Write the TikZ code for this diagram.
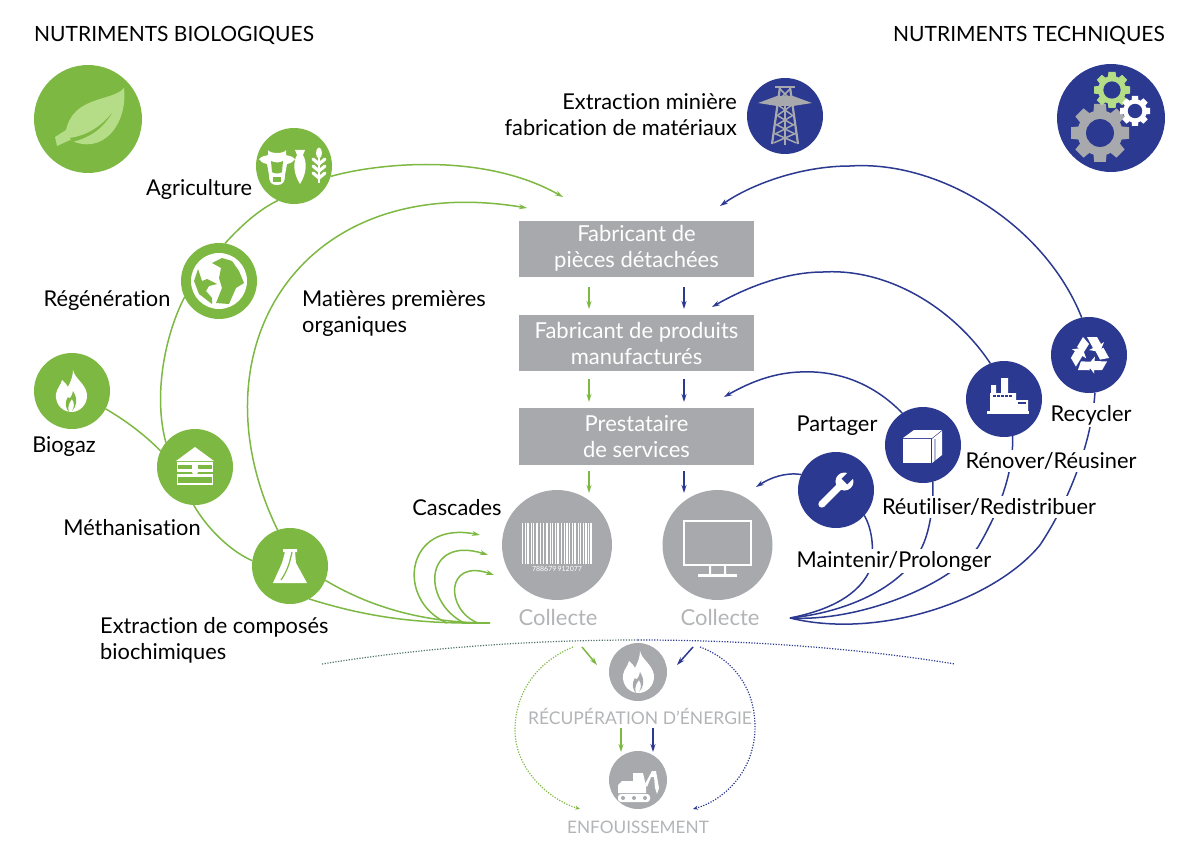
\documentclass[tikz,border=0pt]{standalone}
\usepackage{fontspec}
\setmainfont{Lato}[Ligatures=NoCommon]
\usepackage{color}
\usetikzlibrary{arrows.meta}
\definecolor{biogreen}{RGB}{125, 184, 66}
\definecolor{leafgreen}{RGB}{181, 220, 135}
\definecolor{technavy}{RGB}{43, 57, 144}
\definecolor{stepgrey}{RGB}{167, 169, 172}
\definecolor{endgrey}{RGB}{178, 180, 182}

\tikzset{
  biocircle/.style={circle,fill=biogreen,minimum size=76pt,inner sep=0pt,outer sep=0pt},
  techcircle/.style={circle,fill=technavy,minimum size=76pt,inner sep=0pt,outer sep=0pt},
  greycircle/.style={circle,fill=stepgrey,minimum size=110pt,inner sep=0pt,outer sep=0pt},
  endcircle/.style={circle,fill=stepgrey,minimum size=58pt,inner sep=0pt,outer sep=0pt},
  stepbox/.style={fill=stepgrey,text=white,minimum width=235pt,inner sep=0pt,outer sep=0pt,align=center,font=\fontsize{22}{26}\selectfont},
  lbl/.style={inner sep=0pt,yshift=-2pt,font=\fontsize{21.8}{26}\selectfont},
  gaplbl/.style={fill=white,inner xsep=0pt,inner ysep=2pt,yshift=-2pt,font=\fontsize{21.8}{26}\selectfont},
  greylbl/.style={inner sep=0pt,text=endgrey,font=\fontsize{22}{26}\selectfont},
  greenline/.style={biogreen,line width=1.5pt},
  navyline/.style={technavy,line width=1.5pt},
  dotline/.style={line width=1.2pt,dash pattern=on 1.2pt off 1.5pt}
}

\newcommand{\flameicon}[3]{% x, y, inner colour
  \begin{scope}[shift={(#1,#2)}]
    \fill[white] (2,-21) .. controls (4,-12) and (14,-8) .. (16,3) .. controls (17,14) and (8,21) .. (1,21)
      .. controls (-9,21) and (-16,13) .. (-15,3) .. controls (-14,-3) and (-10,-6) .. (-9,-11)
      .. controls (-6,-8) and (-4,-7) .. (-3,-4) .. controls (0,-10) and (2,-15) .. (2,-21);
    \fill[#3] (1,20) .. controls (6,15) and (7,8) .. (2,0) .. controls (1,6) and (-2,9) .. (-3,6)
      .. controls (-7,12) and (-5,18) .. (-2,21) .. controls (-4,14) and (-1,11) .. (1,8) .. controls (4,12) and (3,17) .. (1,20);
  \end{scope}}
\newcommand{\gearicon}[5]{% x, y, radius, colour, hole
  \begin{scope}[shift={(#1,#2)}]
    \foreach \a in {0,45,...,315}
      \fill[#4,rotate=\a] (-#3*0.3,0) -- (-#3*0.2,-#3) -- (#3*0.2,-#3) -- (#3*0.3,0) -- cycle;
    \fill[#4] (0,0) circle ({#3*0.78});
    \fill[#5] (0,0) circle ({#3*0.48});
  \end{scope}}

\begin{document}
\begin{tikzpicture}[>={Stealth[length=8pt,width=5pt]},x=1pt,y=-1pt]
  \useasboundingbox (0,0) rectangle (1200,848);

  % free ends
  \coordinate (tipagri) at (563,197);
  \coordinate (tiporg) at (527,208);
  \coordinate (tiprecycle) at (720,206);
  \coordinate (tipfactory) at (712,307);
  \coordinate (tipbox) at (724,397);
  \coordinate (tipwrench) at (756,487);
  \coordinate (biosink) at (490,623);
  \coordinate (techsink) at (790,618);
  \coordinate (tipcasa) at (480,535);
  \coordinate (tipcasb) at (488,555);
  \coordinate (tipcasc) at (494,575);
  \coordinate (casa) at (447,623);
  \coordinate (casb) at (464,623);
  \coordinate (casc) at (478,623);
  \coordinate (domel) at (322,664);
  \coordinate (domec) at (638,640);
  \coordinate (domer) at (955,664);

  % stages
  \node[stepbox,minimum height=56pt] (parts) at (636.5,248.5) {Fabricant de\\pièces détachées};
  \node[stepbox,minimum height=56pt] (maker) at (636.5,343) {Fabricant de produits\\manufacturés};
  \node[stepbox,minimum height=57pt] (service) at (636.5,436.5) {Prestataire\\de services};
  \node[greycircle] (collbio) at (557,545) {};
  \node[greycircle] (colltech) at (717.5,545) {};
  \node[endcircle] (energy) at (638,672) {};
  \node[endcircle] (landfill) at (638,780) {};

  % green side
  \node[biocircle,minimum size=108pt] (leaf) at (88,119) {};
  \node[biocircle] (agri) at (294,166) {};
  \node[biocircle] (regen) at (219,281) {};
  \node[biocircle] (biogas) at (72,391) {};
  \node[biocircle] (metha) at (195,467) {};
  \node[biocircle] (extract) at (290,566) {};
  \draw[greenline,->] (agri.-16) .. controls (370,165) and (480,150) .. (tipagri);
  \draw[greenline] (agri.245) .. controls (258,210) and (240,227) .. (regen.81);
  \draw[greenline] (regen.205) .. controls (165,335) and (153,395) .. (metha.140);
  \draw[greenline] (biogas.-28) .. controls (125,420) and (145,435) .. (metha.155);
  \draw[greenline] (metha.-92) .. controls (208,530) and (232,552) .. (extract.172);
  \draw[greenline,->] (extract.109) .. controls (190,350) and (300,170) .. (tiporg);
  \draw[greenline] (extract.-22) .. controls (375,610) and (430,623) .. (biosink);
  \draw[greenline] (extract.-60) .. controls (370,618) and (420,624) .. (biosink);
  \draw[greenline,->] (casa) .. controls (395,600) and (405,520) .. (tipcasa);
  \draw[greenline,->] (casb) .. controls (420,600) and (425,535) .. (tipcasb);
  \draw[greenline,->] (casc) .. controls (445,610) and (445,558) .. (tipcasc);

  % navy side
  \node[techcircle,minimum size=108pt] (gears) at (1111,118) {};
  \node[techcircle] (tower) at (785,116) {};
  \node[techcircle] (recycle) at (1089,355) {};
  \node[techcircle] (factory) at (1004,399) {};
  \node[techcircle] (crate) at (923,445) {};
  \node[techcircle] (wrench) at (836,490) {};
  \draw[navyline,->] (recycle.101) .. controls (1045,225) and (940,160) .. (850,166) .. controls (800,166) and (750,185) .. (tiprecycle);
  \draw[navyline,->] (factory.111) .. controls (955,310) and (890,268) .. (823,272) .. controls (785,272) and (745,288) .. (tipfactory);
  \draw[navyline,->] (crate.123) .. controls (875,385) and (840,370) .. (800,372) .. controls (770,373) and (745,385) .. (tipbox);
  \draw[navyline,->] (wrench.156) .. controls (785,472) and (770,478) .. (tipwrench);
  \draw[navyline] (wrench.-42) .. controls (873,530) and (875,555) .. (869,572) .. controls (855,600) and (820,612) .. (techsink);
  \draw[navyline] (crate.-75) .. controls (934,510) and (928,535) .. (922,547) .. controls (905,585) and (850,612) .. (techsink);
  \draw[navyline] (factory.-77) .. controls (1014,470) and (1000,510) .. (978,547) .. controls (950,585) and (860,622) .. (techsink);
  \draw[navyline] (recycle.-81) .. controls (1092,440) and (1070,500) .. (1040,545) .. controls (995,600) and (880,640) .. (techsink);

  % arrows between the stages
  \foreach \ya/\yb in {287/309,379/402,471/493}{
    \coordinate (ga) at (589,\ya); \coordinate (gb) at (589,\yb);
    \coordinate (na) at (684,\ya); \coordinate (nb) at (684,\yb);
    \draw[greenline,->] (ga) -- (gb);
    \draw[navyline,->] (na) -- (nb);
  }

  % below the line
  \draw[dotline,biogreen!45!technavy] (domel) .. controls (420,648) and (530,640) .. (domec);
  \draw[dotline,technavy] (domec) .. controls (746,640) and (856,648) .. (domer);
  \coordinate (ga) at (582,647); \coordinate (gb) at (597,665);
  \coordinate (na) at (693,647); \coordinate (nb) at (677,665);
  \draw[greenline,->] (ga) -- (gb);
  \draw[navyline,->] (na) -- (nb);
  \coordinate (ga) at (621,728); \coordinate (gb) at (621,752);
  \coordinate (na) at (653,728); \coordinate (nb) at (653,752);
  \draw[greenline,->] (ga) -- (gb);
  \draw[navyline,->] (na) -- (nb);
  \coordinate (ga) at (573,647); \coordinate (gb) at (580,809);
  \coordinate (na) at (700,647); \coordinate (nb) at (693,809);
  \draw[dotline,biogreen,-{Stealth[length=5pt,width=4pt]}] (ga) .. controls (530,665) and (515,700) .. (515,730) .. controls (515,770) and (550,800) .. (gb);
  \draw[dotline,technavy,-{Stealth[length=5pt,width=4pt]}] (na) .. controls (735,660) and (755,690) .. (755,727) .. controls (755,770) and (725,800) .. (nb);

  % leaf
  \fill[leafgreen] (124,88) .. controls (112,102) and (74,95) .. (66,130) -- (55,137) -- (57,146) -- (70,140)
    .. controls (102,156) and (128,125) .. (124,88);
  \fill[biogreen] (70,138) .. controls (85,136) and (100,128) .. (112,113) .. controls (102,130) and (88,138) .. (72,142) -- cycle;

  % cow, fish, wheat
  \begin{scope}[shift={(277,167)}]
    \fill[white] (-18,-8) .. controls (-14,-12) and (-10,-11) .. (-9,-12) -- (-9,-17) .. controls (-7,-13) and (7,-13) .. (9,-17) -- (9,-12)
      .. controls (10,-11) and (14,-12) .. (18,-8) .. controls (15,-4) and (12,-3) .. (10,-3) -- (8,8) .. controls (8,16) and (5,18) .. (0,18)
      .. controls (-5,18) and (-8,16) .. (-8,8) -- (-10,-3) .. controls (-12,-3) and (-15,-4) .. (-18,-8);
    \fill[biogreen] (-6,-6) .. controls (-2,-4) and (2,-4) .. (6,-6) -- (5,5) .. controls (3,7) and (-3,7) .. (-5,5) -- cycle;
    \fill[biogreen] (-4,10) rectangle (4,15);
  \end{scope}
  \fill[white] (295,150) -- (305,150) -- (303,155) .. controls (307,162) and (307,173) .. (300,184)
    .. controls (293,173) and (293,162) .. (297,155) -- cycle;
  \begin{scope}[shift={(319,167)}]
    \draw[white,line width=2pt] (0,-12) -- (0,16);
    \fill[white] (0,-14) ellipse (3 and 5.5);
    \foreach \y in {-3,4,11}
      \draw[white,line width=3.2pt,line cap=round] (-6,\y-5) -- (0,\y) -- (6,\y-5);
  \end{scope}

  % globe
  \begin{scope}[shift={(219,281)}]
    \fill[white] (0,0) circle (28);
    \fill[biogreen] (3,-23) -- (-7,-18) -- (2,-13) -- (0,-3) -- (3,7) -- (-3,22) -- (10,23) -- (17,7) -- (25,2) -- (20,-10) -- (13,-20) -- cycle;
    \fill[biogreen] (-21,-12) -- (-25,0) -- (-20,13) -- (-7,23) -- (-7,17) -- (-13,10) -- (-10,5) -- (-2,3) -- (-12,-2) -- (-17,0) -- cycle;
  \end{scope}

  % flames
  \flameicon{71}{391}{biogreen}
  \flameicon{638}{672}{stepgrey}

  % digester
  \begin{scope}[shift={(195,467)}]
    \fill[white] (-19,-6) -- (0,-20) -- (19,-6) -- cycle;
    \fill[white] (-18,-5) rectangle (18,5);
    \fill[white] (-18,7) rectangle (18,10);
    \fill[white] (-18,16) rectangle (18,18);
    \fill[biogreen] (-17,-2) rectangle (-3,2);
    \fill[biogreen] (3,-2) rectangle (17,2);
    \fill[biogreen] (-17,11) rectangle (17,15.5);
    \fill[white] (-18,7) rectangle (-17,18);
    \fill[white] (17,7) rectangle (18,18);
    \fill[white] (-3,0) rectangle (3,4) (0,5) circle (3);
  \end{scope}

  % flask
  \begin{scope}[shift={(290,566)}]
    \fill[white] (-7,-17) -- (7,-17) -- (7,-14) -- (5,-14) -- (6,-3) -- (17,17) -- (-17,17) -- (-8,-3) -- (-5,-14) -- (-7,-14) -- cycle;
    \draw[biogreen,line width=1.2pt] (2,-14) .. controls (0,-5) and (-2,4) .. (-9,14);
  \end{scope}

  % barcode
  \foreach \x/\w in {522/1.2,525/.7,527/1.8,531/.7,533/1,536/2,540/.7,543/1.2,546/1.8,550/.7,552/1,555/.7,557/2,561/1,564/.7,566/1.6,569/1,572/.7,574/2,578/.8,580/1.4,583/.7,585/1.8,588/.7,590/1.6}
    \fill[white] (\x,523) rectangle ++(\w,41);
  \node[inner sep=0pt,text=white,font=\fontsize{7}{8}\selectfont] (code) at (557,569) {788679\,912077};

  % monitor
  \draw[white,line width=2.5pt] (684,521) rectangle (751,565);
  \fill[white] (698,574) rectangle (737,576.5);
  \fill[white] (709,566) rectangle (711,575) (724,566) rectangle (726,575);

  % pylon
  \begin{scope}[shift={(785,116)},stepgrey]
    \draw[line width=2.5pt] (-10,-29) -- (10,-29);
    \fill (-27,-13) -- (-8,-20) -- (8,-20) -- (27,-13) -- (8,-10) -- (-8,-10) -- cycle;
    \draw[line width=2.2pt] (-5,-29) -- (-13,28) (5,-29) -- (13,28);
    \draw[line width=1.4pt] (0,-20) -- (0,29);
    \foreach \y/\w in {-22/5,-6/7,4/8.5,13/10,22/11.5}
      \draw[line width=1.5pt] (-\w,\y-5) -- (\w,\y+5) (\w,\y-5) -- (-\w,\y+5);
  \end{scope}

  % gears
  \gearicon{1100}{133}{29}{stepgrey}{technavy}
  \gearicon{1112}{90}{18}{leafgreen}{technavy}
  \gearicon{1135}{111}{15}{white}{technavy}

  % recycling
  \begin{scope}[shift={(1090,355)}]
    \foreach \a in {0,120,240}{
      \fill[white,rotate=\a] (-13,-8) -- (-7,-18) -- (-1,-11) -- (-6,-3) -- cycle;
      \fill[white,rotate=\a] (-3,-18) -- (7,-18) -- (11,-11) -- (14,-13) -- (10,-3) -- (-1,-5) -- (3,-7) -- cycle;
    }
  \end{scope}

  % factory
  \begin{scope}[shift={(1004,399)}]
    \fill[white] (-13,-14) rectangle (-8,0) (-3,-21) rectangle (4,0);
    \fill[white] (-14,-6) rectangle (12,13) (12,1) rectangle (24,13);
    \fill[white] (-17,12) rectangle (25,15);
    \foreach \x in {-11,-7,-3,1,5}
      \fill[technavy] (\x,-4) rectangle ++(3,2);
    \fill[technavy] (14,3) rectangle (22,5);
  \end{scope}

  % crate
  \begin{scope}[shift={(923,445)}]
    \fill[white] (-20,-6) rectangle (8,18);
    \fill[white] (-20,-7) -- (-9,-15) -- (19,-15) -- (9,-7) -- cycle;
    \fill[white] (9,-6) -- (19,-14) -- (19,10) -- (9,18) -- cycle;
    \draw[technavy,line width=.7pt] (-20,-10) -- (-9,-18) (12,-6) -- (12,17);
  \end{scope}

  % wrench
  \begin{scope}[shift={(836,490)},rotate=45]
    \fill[white] (-20,-3.5) rectangle (8,3.5);
    \fill[white] (-20,0) circle (3.5);
    \fill[white] (12,0) circle (9);
    \fill[technavy] (12,-4) rectangle (22,4);
  \end{scope}

  % excavator
  \begin{scope}[shift={(638,780)}]
    \fill[white] (-20,13) -- (-20,5) -- (-16,1) -- (-5,1) -- (-5,-7) -- (5,-7) -- (8,6) -- (8,13) -- cycle;
    \fill[white] (7,4) -- (14,-9) -- (18,-9) -- (21,8) -- (19,14) -- (17,8) -- (16,-3) -- (13,-3) -- (9,7) -- cycle;
    \fill[white,rounded corners=3pt] (-20,14) rectangle (12,22);
    \foreach \x in {-15,-4,7}
      \fill[stepgrey] (\x,18) circle (2);
  \end{scope}

  % labels
  \node[lbl,anchor=west,font=\fontsize{21}{26}\selectfont] (titlebio) at (34,33.5) {NUTRIMENTS BIOLOGIQUES};
  \node[lbl,anchor=east,font=\fontsize{21}{26}\selectfont] (titletech) at (1165,33.5) {NUTRIMENTS TECHNIQUES};
  \node[lbl,anchor=east,align=right] (mining) at (737,113) {Extraction minière\\fabrication de matériaux};
  \node[lbl] (lagri) at (199,187) {Agriculture};
  \node[lbl] (lregen) at (107,299) {Régénération};
  \node[lbl] (lbiogas) at (64,445) {Biogaz};
  \node[lbl] (lmetha) at (132,526) {Méthanisation};
  \node[lbl,anchor=west,align=left] (lextract) at (100,638) {Extraction de composés\\biochimiques};
  \node[lbl,anchor=west,align=left] (lorg) at (302,312) {Matières premières\\organiques};
  \node[lbl] (lcascade) at (457,506) {Cascades};
  \node[lbl] (lshare) at (837,424) {Partager};
  \node[gaplbl] (lrecycle) at (1091,413) {Recycler};
  \node[gaplbl] (lfactory) at (1051,459) {Rénover/Réusiner};
  \node[gaplbl] (lcrate) at (989,505) {Réutiliser/Redistribuer};
  \node[gaplbl] (lwrench) at (894,559) {Maintenir/Prolonger};
  \node[greylbl] (lcollbio) at (558,617) {Collecte};
  \node[greylbl] (lcolltech) at (720,617) {Collecte};
  \node[greylbl,font=\fontsize{17.5}{20}\selectfont] (lenergy) at (640,716) {RÉCUPÉRATION D’ÉNERGIE};
  \node[greylbl,font=\fontsize{17.2}{20}\selectfont] (llandfill) at (638,827) {ENFOUISSEMENT};
\end{tikzpicture}
\end{document}
